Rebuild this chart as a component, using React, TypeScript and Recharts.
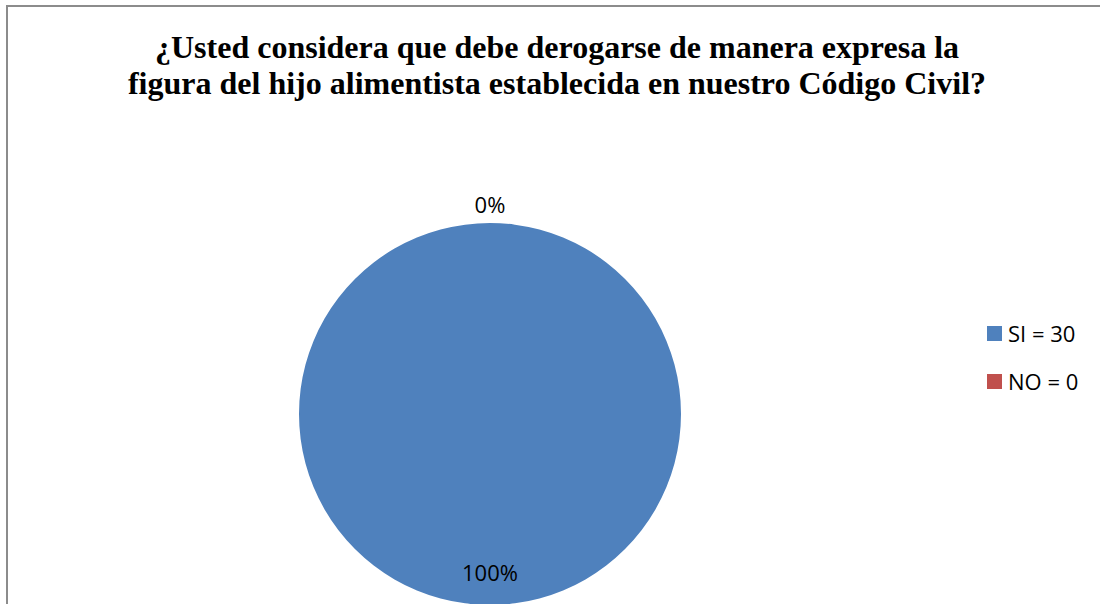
import React from "react";
import { PieChart, Pie, Cell, Legend } from "recharts";

const titleLines = [
  "¿Usted considera que debe derogarse de manera expresa la",
  "figura del hijo alimentista establecida en nuestro Código Civil?",
];
const categories = ["SI = 30", "NO = 0"];
const values = [30, 0];
const colors = ["#4F81BD", "#C0504D"];

const data = categories.map((name, i) => ({ name, value: values[i] }));

const RAD = Math.PI / 180;
const FONT = "Open Sans, Liberation Sans, sans-serif";

const renderLabel = (props: any) => {
  const { cx, cy, midAngle, outerRadius, percent, index } = props;
  const pct = Math.round((percent || 0) * 100) + "%";
  const r = index === 0 ? outerRadius - 33 : outerRadius + 19;
  const x = cx + r * Math.cos(-midAngle * RAD);
  const y = cy + r * Math.sin(-midAngle * RAD);
  return (
    <text
      x={x}
      y={y}
      textAnchor="middle"
      dominantBaseline="central"
      fill="#000"
      fontFamily={FONT}
      fontSize={22}
    >
      {pct}
    </text>
  );
};

const renderLegend = () => (
  <div style={{ fontFamily: FONT, fontSize: 22, color: "#000" }}>
    {data.map((d, i) => (
      <div key={d.name} style={{ display: "flex", alignItems: "center", height: 48 }}>
        <div style={{ width: 15, height: 15, background: colors[i], marginRight: 6 }} />
        <span>{d.name}</span>
      </div>
    ))}
  </div>
);

export default function App() {
  return (
    <div style={{ position: "absolute", left: 0, top: 0, width: 1100, height: 604, background: "#fff", overflow: "hidden" }}>
      <div
        style={{
          position: "absolute",
          left: 6,
          top: 5,
          width: 1200,
          height: 700,
          borderLeft: "2px solid #8c8c8c",
          borderTop: "2px solid #8c8c8c",
        }}
      />
      <div
        style={{
          position: "absolute",
          left: 0,
          top: 29,
          width: 1114,
          textAlign: "center",
          fontFamily: "Liberation Serif, Times New Roman, serif",
          fontWeight: "bold",
          fontSize: 32,
          lineHeight: "36px",
          color: "#000",
        }}
      >
        {titleLines.map((l) => (
          <div key={l}>{l}</div>
        ))}
      </div>
      <div style={{ position: "absolute", left: 0, top: 0 }}>
        <PieChart width={1100} height={640} margin={{ top: 0, right: 0, bottom: 0, left: 0 }}>
          <Pie
            data={data}
            dataKey="value"
            nameKey="name"
            cx={490}
            cy={414}
            outerRadius={191}
            startAngle={90}
            endAngle={-270}
            stroke="none"
            label={renderLabel}
            labelLine={false}
            isAnimationActive={false}
          >
            {data.map((d, i) => (
              <Cell key={d.name} fill={colors[i]} />
            ))}
          </Pie>
          <Legend
            content={renderLegend}
            layout="vertical"
            wrapperStyle={{ position: "absolute", left: 987, top: 309, width: 113 }}
          />
        </PieChart>
      </div>
    </div>
  );
}
